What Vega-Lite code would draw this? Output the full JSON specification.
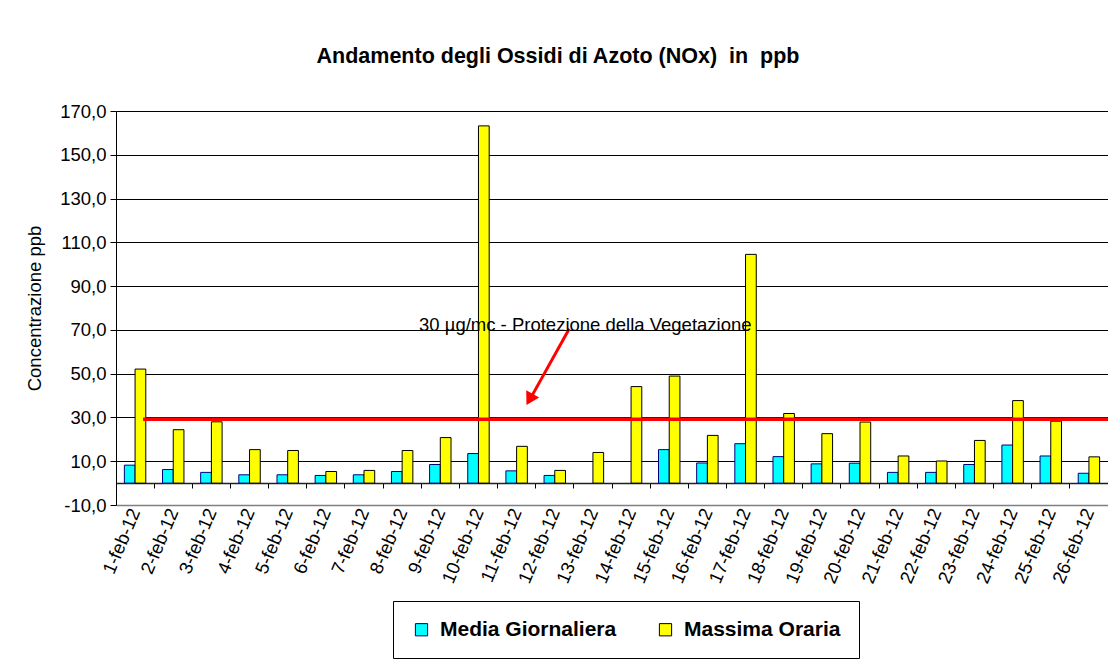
{
  "$schema": "https://vega.github.io/schema/vega-lite/v6.json",
  "width": 992,
  "height": 394,
  "autosize": {"type": "none"},
  "padding": {"left": 116, "top": 111, "right": 0, "bottom": 163},
  "background": "white",
  "config": {
    "font": "Liberation Sans",
    "view": {"stroke": null}
  },
  "title": {
    "text": "Andamento degli Ossidi di Azoto (NOx)\u00a0 in\u00a0 ppb",
    "fontSize": 21.5,
    "fontWeight": "bold",
    "font": "Liberation Sans",
    "color": "black",
    "anchor": "middle",
    "frame": "group",
    "dx": -54,
    "offset": 35
  },
  "datasets": {
    "bars": [
      {"day": "1-feb-12", "serie": "Media Giornaliera", "valore": 8.2},
      {"day": "1-feb-12", "serie": "Massima Oraria", "valore": 52.1},
      {"day": "2-feb-12", "serie": "Media Giornaliera", "valore": 6.2},
      {"day": "2-feb-12", "serie": "Massima Oraria", "valore": 24.4},
      {"day": "3-feb-12", "serie": "Media Giornaliera", "valore": 4.9},
      {"day": "3-feb-12", "serie": "Massima Oraria", "valore": 28.0},
      {"day": "4-feb-12", "serie": "Media Giornaliera", "valore": 3.8},
      {"day": "4-feb-12", "serie": "Massima Oraria", "valore": 15.3},
      {"day": "5-feb-12", "serie": "Media Giornaliera", "valore": 3.8},
      {"day": "5-feb-12", "serie": "Massima Oraria", "valore": 14.9},
      {"day": "6-feb-12", "serie": "Media Giornaliera", "valore": 3.5},
      {"day": "6-feb-12", "serie": "Massima Oraria", "valore": 5.3},
      {"day": "7-feb-12", "serie": "Media Giornaliera", "valore": 3.8},
      {"day": "7-feb-12", "serie": "Massima Oraria", "valore": 5.8},
      {"day": "8-feb-12", "serie": "Media Giornaliera", "valore": 5.3},
      {"day": "8-feb-12", "serie": "Massima Oraria", "valore": 14.9},
      {"day": "9-feb-12", "serie": "Media Giornaliera", "valore": 8.5},
      {"day": "9-feb-12", "serie": "Massima Oraria", "valore": 20.8},
      {"day": "10-feb-12", "serie": "Media Giornaliera", "valore": 13.5},
      {"day": "10-feb-12", "serie": "Massima Oraria", "valore": 163.2},
      {"day": "11-feb-12", "serie": "Media Giornaliera", "valore": 5.6},
      {"day": "11-feb-12", "serie": "Massima Oraria", "valore": 16.8},
      {"day": "12-feb-12", "serie": "Media Giornaliera", "valore": 3.5},
      {"day": "12-feb-12", "serie": "Massima Oraria", "valore": 5.8},
      {"day": "13-feb-12", "serie": "Massima Oraria", "valore": 14.0},
      {"day": "14-feb-12", "serie": "Massima Oraria", "valore": 44.1},
      {"day": "15-feb-12", "serie": "Media Giornaliera", "valore": 15.3},
      {"day": "15-feb-12", "serie": "Massima Oraria", "valore": 48.9},
      {"day": "16-feb-12", "serie": "Media Giornaliera", "valore": 9.2},
      {"day": "16-feb-12", "serie": "Massima Oraria", "valore": 21.8},
      {"day": "17-feb-12", "serie": "Media Giornaliera", "valore": 18.0},
      {"day": "17-feb-12", "serie": "Massima Oraria", "valore": 104.5},
      {"day": "18-feb-12", "serie": "Media Giornaliera", "valore": 12.1},
      {"day": "18-feb-12", "serie": "Massima Oraria", "valore": 31.8},
      {"day": "19-feb-12", "serie": "Media Giornaliera", "valore": 8.8},
      {"day": "19-feb-12", "serie": "Massima Oraria", "valore": 22.6},
      {"day": "20-feb-12", "serie": "Media Giornaliera", "valore": 9.1},
      {"day": "20-feb-12", "serie": "Massima Oraria", "valore": 27.9},
      {"day": "21-feb-12", "serie": "Media Giornaliera", "valore": 4.9},
      {"day": "21-feb-12", "serie": "Massima Oraria", "valore": 12.4},
      {"day": "22-feb-12", "serie": "Media Giornaliera", "valore": 4.9},
      {"day": "22-feb-12", "serie": "Massima Oraria", "valore": 10.1},
      {"day": "23-feb-12", "serie": "Media Giornaliera", "valore": 8.5},
      {"day": "23-feb-12", "serie": "Massima Oraria", "valore": 19.5},
      {"day": "24-feb-12", "serie": "Media Giornaliera", "valore": 17.4},
      {"day": "24-feb-12", "serie": "Massima Oraria", "valore": 37.7},
      {"day": "25-feb-12", "serie": "Media Giornaliera", "valore": 12.4},
      {"day": "25-feb-12", "serie": "Massima Oraria", "valore": 28.3},
      {"day": "26-feb-12", "serie": "Media Giornaliera", "valore": 4.5},
      {"day": "26-feb-12", "serie": "Massima Oraria", "valore": 12.0}
    ],
    "soglia": [
      {"pos": 0.71, "pos2": 26, "valore": 29.2}
    ],
    "freccia": [
      {"pos": 11.88, "valore": 70.5},
      {"pos": 10.86, "valore": 38.6}
    ],
    "punta": [
      {"pos": 10.84, "valore": 38.2}
    ],
    "nota": [
      {"pos": 12.3, "valore": 69.5, "testo": "30 µg/mc - Protezione della Vegetazione"}
    ]
  },
  "layer": [
    {
      "data": {"name": "bars"},
      "resolve": {"axis": {"x": "independent"}},
      "layer": [
        {
          "mark": {"type": "bar", "strokeWidth": 1},
          "encoding": {
            "x": {
              "field": "day",
              "type": "nominal",
              "sort": null,
              "scale": {"paddingInner": 0, "paddingOuter": 0},
              "axis": {
                "orient": "bottom",
                "title": null,
                "labelAngle": -67,
                "labelAlign": "right",
                "labelBaseline": "middle",
                "labelFontSize": 18.5,
                "labelColor": "black",
                "labelPadding": 4,
                "labelOverlap": false,
                "ticks": false,
                "domainColor": "#808080",
                "domainWidth": 1.5,
                "grid": false
              }
            },
            "xOffset": {
              "field": "serie",
              "type": "nominal",
              "sort": ["Media Giornaliera", "Massima Oraria"],
              "scale": {"domain": ["Media Giornaliera", "Massima Oraria"], "paddingInner": 0, "paddingOuter": 0.78}
            },
            "y": {
              "field": "valore",
              "type": "quantitative",
              "scale": {"domain": [-10, 170], "nice": false, "zero": false},
              "axis": {
                "title": "Concentrazione ppb",
                "titleFontSize": 18.5,
                "titleFontWeight": "normal",
                "titleColor": "black",
                "titlePadding": 15,
                "values": [-10, 10, 30, 50, 70, 90, 110, 130, 150, 170],
                "labelExpr": "replace(replace(format(datum.value, '.1f'), '.', ','), '\u2212', '-')",
                "labelFontSize": 18.5,
                "labelColor": "black",
                "labelPadding": 4,
                "tickSize": 6,
                "tickColor": "black",
                "domainColor": "black",
                "grid": true,
                "gridColor": {"condition": {"test": "datum.value == -10", "value": "#808080"}, "value": "black"},
                "gridWidth": 1,
                "gridOpacity": 1
              }
            },
            "y2": {"datum": 0},
            "color": {
              "field": "serie",
              "type": "nominal",
              "scale": {"domain": ["Media Giornaliera", "Massima Oraria"], "range": ["#00FFFF", "#FFFF00"]},
              "legend": {
                "orient": "none",
                "legendX": 277,
                "legendY": 490,
                "direction": "horizontal",
                "title": null,
                "strokeColor": "black",
                "fillColor": "white",
                "padding": 18,
                "symbolType": "square",
                "symbolSize": 150,
                "symbolStrokeWidth": 1,
                "labelFontSize": 21,
                "labelFontWeight": "bold",
                "labelColor": "black",
                "labelOffset": 8,
                "labelLimit": 400,
                "columnPadding": 38
              }
            },
            "stroke": {
              "field": "serie",
              "type": "nominal",
              "scale": {"domain": ["Media Giornaliera", "Massima Oraria"], "range": ["#000080", "#000000"]}
            }
          }
        },
        {
          "mark": {"type": "text", "text": ""},
          "encoding": {
            "x": {
              "field": "day",
              "type": "nominal",
              "sort": null,
              "axis": {
                "orient": "bottom",
                "offset": -22,
                "title": null,
                "labels": false,
                "ticks": true,
                "tickSize": 5,
                "tickColor": "black",
                "bandPosition": 0,
                "domain": true,
                "domainColor": "#202020",
                "domainWidth": 1.5,
                "grid": false
              }
            },
            "y": {"datum": 0}
          }
        }
      ]
    },
    {
      "layer": [
        {
          "data": {"name": "soglia"},
          "mark": {"type": "rule", "color": "#FF0000", "strokeWidth": 3.5},
          "encoding": {
            "x": {"field": "pos", "type": "quantitative", "scale": {"domain": [0, 26], "nice": false, "zero": false}, "axis": null},
            "x2": {"field": "pos2"},
            "y": {"field": "valore", "type": "quantitative"}
          }
        },
        {
          "data": {"name": "freccia"},
          "mark": {"type": "line", "color": "#FF0000", "strokeWidth": 3},
          "encoding": {
            "x": {"field": "pos", "type": "quantitative", "axis": null},
            "y": {"field": "valore", "type": "quantitative"}
          }
        },
        {
          "data": {"name": "punta"},
          "mark": {"type": "point", "shape": "triangle-down", "filled": true, "color": "#FF0000", "size": 220, "angle": 29, "opacity": 1},
          "encoding": {
            "x": {"field": "pos", "type": "quantitative", "axis": null},
            "y": {"field": "valore", "type": "quantitative"}
          }
        },
        {
          "data": {"name": "nota"},
          "mark": {"type": "text", "fontSize": 18.5, "color": "black", "align": "center", "baseline": "alphabetic"},
          "encoding": {
            "x": {"field": "pos", "type": "quantitative", "axis": null},
            "y": {"field": "valore", "type": "quantitative"},
            "text": {"field": "testo"}
          }
        }
      ]
    }
  ],
  "resolve": {"scale": {"x": "independent"}}
}
